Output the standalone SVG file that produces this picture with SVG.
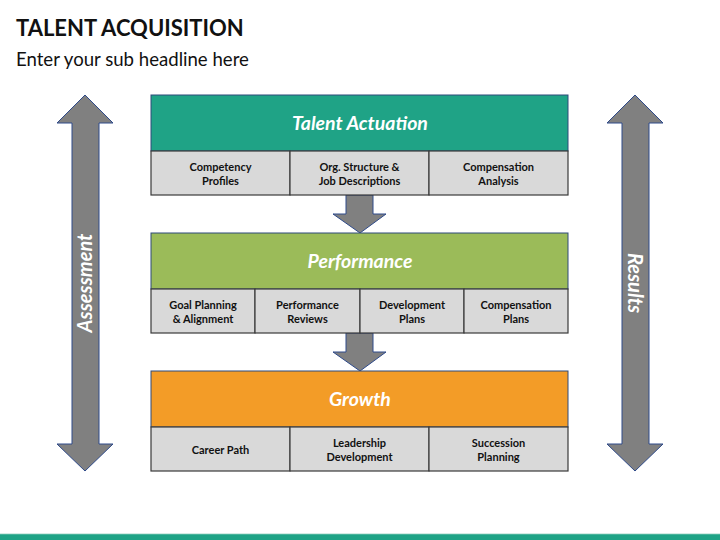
<svg xmlns="http://www.w3.org/2000/svg" width="720" height="540" viewBox="0 0 720 540">
<style>
text{font-family:Lato,"Open Sans","Liberation Sans",sans-serif}
.title{font-size:22px;font-weight:bold;fill:#111}
.sub{font-size:18.6px;fill:#111}
.hdr{stroke:#2e4a7a;stroke-width:1}
.hdrt{font-size:19.5px;font-weight:bold;font-style:italic;fill:#fff;text-anchor:middle}
.cell{fill:#d9d9d9;stroke:#3a3a3a;stroke-width:1.2}
.ct{font-size:11px;font-weight:bold;fill:#111;text-anchor:middle}
.arr{fill:#808080;stroke:#2e4a8a;stroke-width:1}
.side{font-size:20px;font-weight:bold;font-style:italic;fill:#fff;text-anchor:middle}
</style>
<rect width="720" height="540" fill="#fff"/>
<text class="title" x="16" y="36">TALENT ACQUISITION</text>
<text class="sub" x="16" y="66">Enter your sub headline here</text>
<g id="connectors">
<polygon class="arr" points="346,195 373,195 373,214 386,214 360,233 333,214 346,214"/>
<polygon class="arr" points="346,333 373,333 373,352 386,352 360,371 333,352 346,352"/>
</g>
<g id="assessment">
<polygon class="arr" points="85,95 113,123 99,123 99,444 113,444 85,471 57,444 72,444 72,123 57,123"/>
<text class="side" transform="translate(92,283) rotate(-90)">Assessment</text>
</g>
<g id="results">
<polygon class="arr" points="635,95 663,123 649,123 649,444 663,444 635,471 607,444 622,444 622,123 607,123"/>
<text class="side" transform="translate(628,283) rotate(90)">Results</text>
</g>
<g id="talent-actuation">
<rect class="hdr" x="151" y="95" width="417" height="56" fill="#1fa386"/>
<text class="hdrt" x="360" y="130">Talent Actuation</text>
<rect class="cell" x="151" y="151" width="139" height="44"/>
<rect class="cell" x="290" y="151" width="139" height="44"/>
<rect class="cell" x="429" y="151" width="139" height="44"/>
<text class="ct" x="220.5" y="171">Competency</text>
<text class="ct" x="220.5" y="185">Profiles</text>
<text class="ct" x="359.5" y="171">Org. Structure &amp;</text>
<text class="ct" x="359.5" y="185">Job Descriptions</text>
<text class="ct" x="498.5" y="171">Compensation</text>
<text class="ct" x="498.5" y="185">Analysis</text>
</g>
<g id="performance">
<rect class="hdr" x="151" y="233" width="417" height="56" fill="#9bbb59"/>
<text class="hdrt" x="360" y="268">Performance</text>
<rect class="cell" x="151" y="289" width="104" height="44"/>
<rect class="cell" x="255" y="289" width="105" height="44"/>
<rect class="cell" x="360" y="289" width="104" height="44"/>
<rect class="cell" x="464" y="289" width="104" height="44"/>
<text class="ct" x="203" y="309">Goal Planning</text>
<text class="ct" x="203" y="323">&amp; Alignment</text>
<text class="ct" x="307.5" y="309">Performance</text>
<text class="ct" x="307.5" y="323">Reviews</text>
<text class="ct" x="412" y="309">Development</text>
<text class="ct" x="412" y="323">Plans</text>
<text class="ct" x="516" y="309">Compensation</text>
<text class="ct" x="516" y="323">Plans</text>
</g>
<g id="growth">
<rect class="hdr" x="151" y="371" width="417" height="56" fill="#f39c27"/>
<text class="hdrt" x="360" y="406">Growth</text>
<rect class="cell" x="151" y="427" width="139" height="44"/>
<rect class="cell" x="290" y="427" width="139" height="44"/>
<rect class="cell" x="429" y="427" width="139" height="44"/>
<text class="ct" x="220.5" y="454">Career Path</text>
<text class="ct" x="359.5" y="447">Leadership</text>
<text class="ct" x="359.5" y="461">Development</text>
<text class="ct" x="498.5" y="447">Succession</text>
<text class="ct" x="498.5" y="461">Planning</text>
</g>
<rect x="0" y="534" width="720" height="6" fill="#1fa386"/>
<rect x="0" y="533.5" width="720" height="0.8" fill="#a9d9cc"/>
</svg>
